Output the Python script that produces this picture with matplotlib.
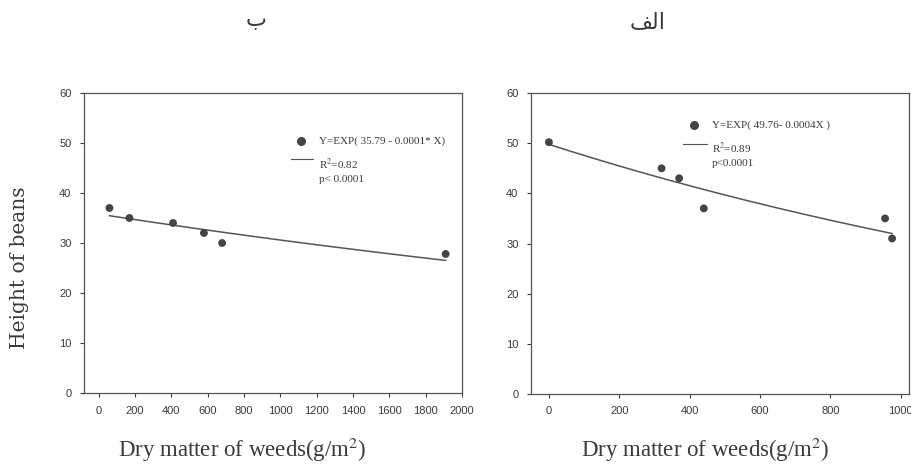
import numpy as np
import matplotlib
matplotlib.use("Agg")
import matplotlib.pyplot as plt

plt.rcParams['font.family'] = ['Liberation Sans', 'DejaVu Sans']
plt.rcParams['mathtext.fontset'] = 'stix'

# Panel "ب" (left)
left_x = [60, 170, 410, 580, 680, 1910]
left_y = [37, 35, 34, 32, 30, 27.8]
left_fit_a, left_fit_b = 35.79, -0.000157
left_fit_range = [60, 1910]
left_xticks = [0, 200, 400, 600, 800, 1000, 1200, 1400, 1600, 1800, 2000]
left_eq = "Y=EXP( 35.79 - 0.0001* X)"
left_r2 = "R$^2$=0.82"
left_p = "p< 0.0001"
left_title = "ب"

# Panel "الف" (right); title written in visual (shaped) Arabic presentation forms
right_x = [0, 320, 370, 440, 955, 975]
right_y = [50.2, 45, 43, 37, 35, 31]
right_fit_a, right_fit_b = 49.76, -0.000453
right_fit_range = [0, 975]
right_xticks = [0, 200, 400, 600, 800, 1000]
right_eq = "Y=EXP( 49.76- 0.0004X )"
right_r2 = "R$^2$=0.89"
right_p = "p<0.0001"
right_title = "\uFED2\uFEDF\u0627"  # الف

yticks = [0, 10, 20, 30, 40, 50, 60]
ylabel = "Height of beans"
xlabel = "Dry matter of weeds(g/m$^2$)"

ink = '#3a3a3a'
fig = plt.figure(figsize=(9.12, 4.71), dpi=100)
ax1 = fig.add_axes([0.0921, 0.1656, 0.4145, 0.637])
ax2 = fig.add_axes([0.5822, 0.1635, 0.4145, 0.639])

serif = ['Liberation Serif', 'DejaVu Serif']

def panel(ax, xs, ys, a, b, rng, xticks, xlim, eq, r2, p, leg):
    xx = np.linspace(rng[0], rng[1], 200)
    ax.plot(xx, a * np.exp(b * xx), color='#555555', lw=1.1, zorder=2)
    ax.scatter(xs, ys, s=32, color='#444444', zorder=3, edgecolors='none')
    ax.set_xlim(*xlim)
    ax.set_ylim(0, 60)
    ax.set_xticks(xticks)
    ax.set_yticks(yticks)
    ax.tick_params(direction='out', length=3, width=0.8, colors=ink,
                   labelsize=8, pad=6)
    for s in ax.spines.values():
        s.set_color('#555555')
        s.set_linewidth(0.9)
    dx, dy, tx, lx0, lx1, ly, ry, py = leg
    ax.plot([dx], [dy], 'o', ms=5.5, color='#444444', transform=ax.transAxes,
            clip_on=False)
    ax.plot([lx0, lx1], [ly, ly], color='#555555', lw=0.8,
            transform=ax.transAxes)
    ax.text(tx, dy, eq, transform=ax.transAxes, fontsize=8, family=serif,
            va='center', ha='left', color=ink)
    ax.text(tx, ry, r2, transform=ax.transAxes, fontsize=8, family=serif,
            va='center', ha='left', color=ink)
    ax.text(tx, py, p, transform=ax.transAxes, fontsize=8, family=serif,
            va='center', ha='left', color=ink)

panel(ax1, left_x, left_y, left_fit_a, left_fit_b, left_fit_range,
      left_xticks, (-80, 2000), left_eq, left_r2, left_p,
      (0.574, 0.84, 0.622, 0.548, 0.606, 0.78, 0.763, 0.713))
panel(ax2, right_x, right_y, right_fit_a, right_fit_b, right_fit_range,
      right_xticks, (-51, 1023), right_eq, right_r2, right_p,
      (0.431, 0.894, 0.479, 0.402, 0.466, 0.83, 0.817, 0.767))

fig.text(20 / 912, 1 - 268 / 471, ylabel, rotation=90, fontsize=14.5,
         family=['DejaVu Serif'], va='center', ha='center', color=ink)
fig.text(242 / 912, 1 - 450 / 471, xlabel, fontsize=16.5, family=serif,
         va='center', ha='center', color=ink)
fig.text(705 / 912, 1 - 450 / 471, xlabel, fontsize=16.5, family=serif,
         va='center', ha='center', color=ink)
fig.text(256 / 912, 1 - 20 / 471, left_title, fontsize=16,
         family=['DejaVu Sans'], va='center', ha='center', color=ink)
fig.text(648 / 912, 1 - 22 / 471, right_title, fontsize=16,
         family=['DejaVu Sans'], va='center', ha='center', color=ink)

fig.savefig('out.png', dpi=100)
